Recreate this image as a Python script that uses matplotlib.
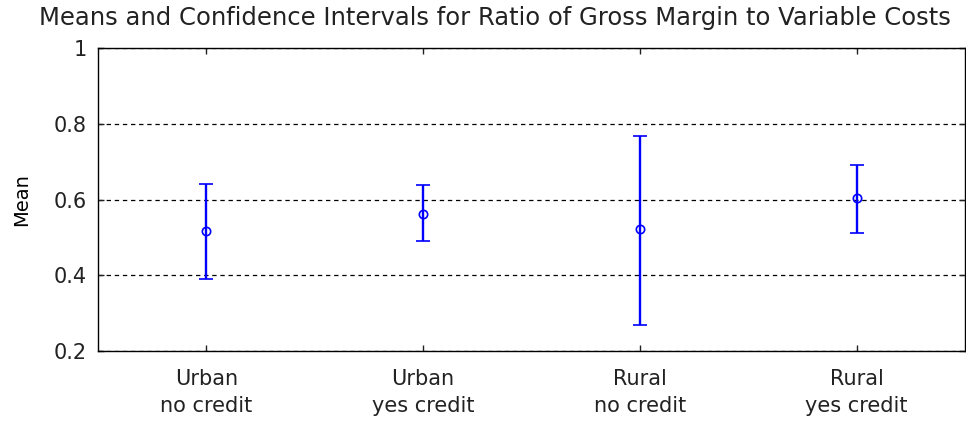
import matplotlib
matplotlib.use("Agg")
import matplotlib.pyplot as plt
import numpy as np

categories = ["Urban\nno credit", "Urban\nyes credit", "Rural\nno credit", "Rural\nyes credit"]
means = [0.517, 0.563, 0.522, 0.605]
upper = [0.642, 0.637, 0.768, 0.691]
lower = [0.390, 0.490, 0.269, 0.512]

plt.rcParams['font.family'] = ['DejaVu Sans']

fig = plt.figure(figsize=(9.66, 4.25), dpi=100)
ax = fig.add_axes([98/966, 1 - 351/425, 867/966, 303/425])

x = np.arange(1, len(categories) + 1)
m = np.array(means)
yerr = np.vstack([m - np.array(lower), np.array(upper) - m])
ax.errorbar(x, m, yerr=yerr, fmt='o', color='blue', ecolor='blue', elinewidth=1.7,
            capsize=5, capthick=1.7, markersize=6, markerfacecolor='none',
            markeredgewidth=1.2, zorder=3)

ax.set_xlim(0.5, 4.5)
ax.set_ylim(0.2, 1.0)
ax.set_xticks(x)
ax.set_xticklabels(categories, linespacing=1.45)
ax.set_yticks([0.2, 0.4, 0.6, 0.8, 1.0])
ax.set_yticklabels(['0.2', '0.4', '0.6', '0.8', '1'])
ax.yaxis.grid(True, color='black', linestyle=(0, (3.5, 3)), linewidth=0.9)
ax.set_axisbelow(True)
ax.tick_params(direction='in', length=4, width=1.0, top=True, right=True,
               labelsize=15, colors='#222222', labelcolor='#222222')
ax.tick_params(axis='x', pad=13)
ax.tick_params(axis='y', pad=8)
for s in ax.spines.values():
    s.set_linewidth(1.0)
ax.set_ylabel('Mean', fontsize=14, labelpad=16)
# title is centred slightly left of the axes in the original, so place it on the figure
fig.text(495/966, 1 - 18/425,
         'Means and Confidence Intervals for Ratio of Gross Margin to Variable Costs',
         fontsize=17.5, color='#222222', ha='center', va='center')

fig.savefig('out.png', dpi=100)
